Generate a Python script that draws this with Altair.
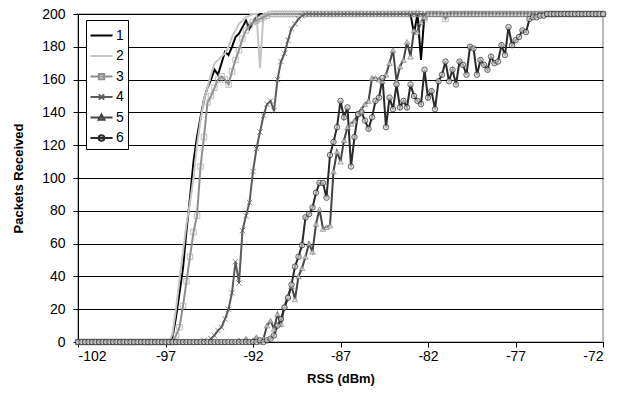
import altair as alt
import pandas as pd

# RSS sample grid (dBm), one sample every 0.2 dBm from -102 to -72
RSS = [round(-102 + 0.2 * k, 1) for k in range(151)]

SERIES = ["1", "2", "3", "4", "5", "6"]

S1 = ([0] * 27
      + [3, 15, 30, 45, 68, 88, 110, 125, 137, 148, 155, 160, 166, 163, 170, 177, 175, 180,
         186, 188, 192, 196, 191, 195, 198]
      + [200] * 44 + [188, 200, 172] + [200] * 52)

S2 = ([0] * 27
      + [5, 20, 38, 55, 72, 85, 100, 120, 135, 148, 155, 163, 170, 172, 174, 176, 180, 186,
         190, 194, 196, 198, 199, 200, 200, 167]
      + [200] * 98)

S3 = ([0] * 28
      + [4, 9, 22, 37, 52, 67, 77, 107, 125, 146, 150, 155, 160, 162, 160, 157, 165, 172,
         178, 185, 190, 193, 195, 196, 197, 198, 199]
      + [200] * 44 + [197] + [200] * 5 + [197] + [200] * 45)

S4 = ([0] * 36
      + [1, 0, 2, 4, 7, 9, 14, 20, 30, 49, 36, 68, 77, 85, 104, 118, 128, 138, 145, 147,
         141, 160, 171, 176, 184, 191, 194, 197, 199]
      + [200] * 86)

S5 = ([0] * 46
      + [1, 0, 2, 0, 1, 3, 0, 2, 10, 13, 8, 17, 11, 22, 28, 34, 26, 40, 45, 52, 60, 55, 72,
         81, 69, 70, 71, 104, 116, 110, 123, 131, 133, 135, 139, 142, 145, 147, 161, 161,
         160, 159, 163, 170, 178, 159, 168, 172, 183, 174, 190, 189, 195, 198]
      + [200] * 51)

S6 = ([0] * 52
      + [1, 0, 1, 2, 4, 10, 14, 21, 27, 35, 46, 52, 59, 76, 78, 82, 91, 97, 97, 88, 114,
         122, 131, 147, 137, 143, 107, 125, 139, 140, 135, 130, 137, 147, 149, 161, 131,
         149, 142, 157, 143, 147, 143, 157, 150, 147, 145, 166, 149, 153, 142, 159, 163,
         171, 159, 166, 157, 171, 169, 163, 180, 179, 163, 172, 169, 166, 174, 170, 171,
         181, 175, 192, 181, 184, 186, 190, 189, 197, 198, 198, 199, 199]
      + [200] * 17)

VALUES = [S1, S2, S3, S4, S5, S6]

X_TICKS = [-102, -97, -92, -87, -82, -77, -72]
Y_TICKS = [0, 20, 40, 60, 80, 100, 120, 140, 160, 180, 200]

LINE_COLORS = ["#000000", "#c4c4c4", "#8e8e8e", "#5c5c5c", "#454545", "#2a2a2a"]
MARK_SERIES = ["3", "4", "5", "6"]
MARK_SHAPES = ["square", "M-1,-1L1,1M-1,1L1,-1", "triangle-up", "circle"]
MARK_STROKES = ["#a0a0a0", "#5c5c5c", "#7a7a7a", "#262626"]
MARK_FILLS = ["transparent", "transparent", "#e6e6e6", "#cfcfcf"]
LEGEND_PATHS = [
    "M-1.05,0L1.05,0",
    "M-1.05,0L1.05,0",
    "M-1.05,0L1.05,0M-0.25,-0.25L0.25,-0.25L0.25,0.25L-0.25,0.25Z",
    "M-1.05,0L1.05,0M-0.25,-0.25L0.25,0.25M-0.25,0.25L0.25,-0.25",
    "M-1.05,0L1.05,0M0,-0.3L0.28,0.22L-0.28,0.22Z",
    "M-1.05,0L1.05,0M0.27,0A0.27,0.27 0 1 1 -0.27,0A0.27,0.27 0 1 1 0.27,0Z",
]

rows = []
for s, vals in zip(SERIES, VALUES):
    assert len(vals) == len(RSS), (s, len(vals))
    for i, (r, v) in enumerate(zip(RSS, vals)):
        rows.append({"series": s, "rss": r, "pkts": v, "order": i})
df = pd.DataFrame(rows)

FONT = "Liberation Sans"

X_AXIS = alt.Axis(
    values=X_TICKS, labelExpr="'' + datum.value", title="RSS (dBm)", grid=False,
    tickSize=5, labelPadding=2, titlePadding=9, labelOverlap=False,
    labelFontSize=14, titleFontSize=13, titleFontWeight="bold",
    domainColor="black", tickColor="black", labelColor="black", titleColor="black",
    labelFont=FONT, titleFont=FONT,
)
Y_AXIS = alt.Axis(
    values=Y_TICKS, labelExpr="'' + datum.value", title="Packets Received", grid=True,
    gridColor="#000000", gridWidth=1, tickSize=5, labelPadding=8, titlePadding=16,
    labelOverlap=False, labelFontSize=14, titleFontSize=13, titleFontWeight="bold",
    domainColor="black", tickColor="black", labelColor="black", titleColor="black",
    labelFont=FONT, titleFont=FONT,
)
X_SCALE = alt.Scale(domain=[-102, -72], nice=False, zero=False)
Y_SCALE = alt.Scale(domain=[0, 200], nice=False)


def xe():
    return alt.X("rss:Q", scale=X_SCALE, axis=X_AXIS)


def ye():
    return alt.Y("pkts:Q", scale=Y_SCALE, axis=Y_AXIS)


lines = alt.Chart(df).mark_line(strokeWidth=2).encode(
    x=xe(),
    y=ye(),
    order="order:Q",
    color=alt.Color("series:N", scale=alt.Scale(domain=SERIES, range=LINE_COLORS), legend=None),
)

points = alt.Chart(df[df["series"].isin(MARK_SERIES)]).mark_point(
    filled=True, size=30, strokeWidth=1
).encode(
    x=xe(),
    y=ye(),
    shape=alt.Shape("series:N", scale=alt.Scale(domain=MARK_SERIES, range=MARK_SHAPES), legend=None),
    stroke=alt.Stroke("series:N", scale=alt.Scale(domain=MARK_SERIES, range=MARK_STROKES), legend=None),
    fill=alt.Fill("series:N", scale=alt.Scale(domain=MARK_SERIES, range=MARK_FILLS), legend=None),
)

LEG = alt.Legend(
    title=None, orient="none", legendX=8, legendY=6, padding=4,
    strokeColor="black", fillColor="white", symbolSize=441, symbolStrokeWidth=2,
    symbolOpacity=1, labelFontSize=14, labelFont=FONT, labelColor="black",
    rowPadding=1.5, labelOffset=3,
)

legend_layer = alt.Chart(df).mark_point(opacity=0, filled=False).encode(
    x=xe(),
    y=ye(),
    shape=alt.Shape("series:N", scale=alt.Scale(domain=SERIES, range=LEGEND_PATHS), legend=LEG),
    color=alt.Color("series:N", scale=alt.Scale(domain=SERIES, range=LINE_COLORS), legend=LEG),
)

chart = (
    alt.layer(lines, points, legend_layer)
    .resolve_scale(color="independent", shape="independent", stroke="independent", fill="independent")
    .properties(
        width=525, height=328,
        padding={"left": 78, "top": 14, "right": 17, "bottom": 66},
        autosize="none", background="white",
    )
    .configure_view(stroke="#b8b8b8", strokeWidth=2)
)

chart.save("out.html", embed_options={"renderer": "svg", "actions": False})
